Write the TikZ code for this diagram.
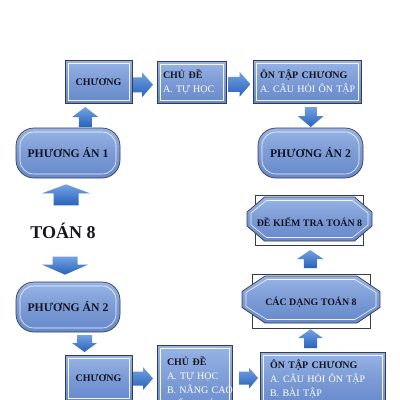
\documentclass[tikz,border=0pt]{standalone}
\usepackage{fontspec}
\setmainfont{Liberation Serif}
\usetikzlibrary{calc}
\definecolor{bxt}{RGB}{152,180,230}
\definecolor{bxm}{RGB}{124,155,213}
\definecolor{bxb}{RGB}{102,137,203}
\definecolor{bord}{RGB}{55,60,75}
\definecolor{txt}{RGB}{20,20,35}
\definecolor{art}{RGB}{115,162,226}
\definecolor{arb}{RGB}{40,98,186}
\newcommand\octpath[5]{($(#1)+(-#4,-#3)$) -- ($(#1)+(#4,-#3)$) -- ($(#1)+(#2,-#5)$) -- ($(#1)+(#2,#5)$) -- ($(#1)+(#4,#3)$) -- ($(#1)+(-#4,#3)$) -- ($(#1)+(-#2,#5)$) -- ($(#1)+(-#2,-#5)$) -- cycle}
\newcommand\bxl[2]{\hspace*{#1}\mbox{#2}}
\tikzset{
  boxbase/.style={draw=bord, line width=0.7pt, top color=bxt, bottom color=bxb, middle color=bxm},
  sqbox/.style={boxbase, inner sep=0pt, text=txt,
    path picture={\draw[white, line width=0.6pt, opacity=0.9]
      ([xshift=3pt,yshift=-3pt]path picture bounding box.north west) rectangle
      ([xshift=-3pt,yshift=3pt]path picture bounding box.south east);}},
  rbox/.style={boxbase, rounded corners=18pt, inner sep=0pt, text=txt,
    font=\bfseries\fontsize{11.7}{13}\selectfont,
    path picture={\draw[white, line width=0.6pt, opacity=0.9, rounded corners=14pt]
      ([xshift=4pt,yshift=-4pt]path picture bounding box.north west) rectangle
      ([xshift=-4pt,yshift=4pt]path picture bounding box.south east);}},
  multibox/.style={sqbox, align=left, font=\fontsize{10}{14}\selectfont},
  octrect/.style={draw=bord, fill=white, line width=0.6pt},
  octfill/.style={draw=bord, line width=0.7pt, top color=bxt, bottom color=bxb, middle color=bxm},
  octframe/.style={draw=white, line width=0.6pt, opacity=0.9},
  octtext/.style={text=txt, inner sep=0pt, font=\bfseries\fontsize{9.9}{11}\selectfont},
  arrowfill/.style={top color=art, bottom color=arb, draw=none},
  pics/rarr/.style n args={4}{code={\path[arrowfill] ({-#1/2},{-#3}) -- ({#1/2-#4},{-#3}) -- ({#1/2-#4},{-#2}) -- ({#1/2},0) -- ({#1/2-#4},{#2}) -- ({#1/2-#4},{#3}) -- ({-#1/2},{#3}) -- cycle;}},
  pics/uarr/.style n args={4}{code={\path[arrowfill] ({-#3},{#1/2}) -- ({-#3},{-#1/2+#4}) -- ({-#2},{-#1/2+#4}) -- (0,{-#1/2}) -- ({#2},{-#1/2+#4}) -- ({#3},{-#1/2+#4}) -- ({#3},{#1/2}) -- cycle;}},
  pics/darr/.style n args={4}{code={\path[arrowfill] ({-#3},{-#1/2}) -- ({-#3},{#1/2-#4}) -- ({-#2},{#1/2-#4}) -- (0,{#1/2}) -- ({#2},{#1/2-#4}) -- ({#3},{#1/2-#4}) -- ({#3},{-#1/2}) -- cycle;}},
}
\begin{document}
\begin{tikzpicture}[x=1pt,y=-1pt]
\clip (0,0) rectangle (400,400);
\fill[white] (0,0) rectangle (400,400);

% top row
\node[sqbox, minimum width=67pt, minimum height=43pt, font=\bfseries\fontsize{10}{12}\selectfont] (c1) at (98.5,81.5) {CHƯƠNG};
\node[multibox, text width=69pt, minimum height=42pt] (d1) at (191.5,82)
  {\bxl{6pt}{\textbf{CHỦ ĐỀ}}\\\bxl{6pt}{\textcolor{white}{A. TỰ HỌC}}};
\node[multibox, text width=108pt, minimum height=43pt] (o1) at (307,81.5)
  {\bxl{7pt}{\textbf{ÔN TẬP CHƯƠNG}}\\\bxl{7pt}{\textcolor{white}{A. CÂU HỎI ÔN TẬP}}};

% rounded boxes
\node[rbox, minimum width=104pt, minimum height=50pt] (pa1) at (68,153) {PHƯƠNG ÁN 1};
\node[rbox, minimum width=105pt, minimum height=50pt] (pa2r) at (310.5,153) {PHƯƠNG ÁN 2};
\node[rbox, minimum width=104pt, minimum height=50pt] (pa2l) at (68,307) {PHƯƠNG ÁN 2};

\node[text=txt, font=\bfseries\fontsize{18}{20}\selectfont] (toan) at (63,231) {TOÁN 8};

% bottom row
\node[sqbox, minimum width=67pt, minimum height=46pt, font=\bfseries\fontsize{10}{12}\selectfont] (c2) at (98.5,378) {CHƯƠNG};
\node[multibox, text width=75pt, minimum height=74pt] (d2) at (194.5,382)
  {\bxl{10pt}{\textbf{CHỦ ĐỀ}}\\\bxl{10pt}{\textcolor{white}{A. TỰ HỌC}}\\\bxl{10pt}{\textcolor{white}{B. NÂNG CAO}}\\\bxl{10pt}{\textcolor{white}{KIẾN THỨC}}};
\node[multibox, text width=125pt, minimum height=54pt] (o2) at (322.5,379)
  {\bxl{10pt}{\textbf{ÔN TẬP CHƯƠNG}}\\\bxl{10pt}{\textcolor{white}{A. CÂU HỎI ÔN TẬP}}\\\bxl{10pt}{\textcolor{white}{B. BÀI TẬP}}};

% octagons
\coordinate (cdc) at (311,299.5);
\draw[octrect] ($(cdc)+(-59,-25.5)$) rectangle ($(cdc)+(59,28.5)$);
\path[octfill] \octpath{cdc}{69}{23.5}{46}{8};
\path[octframe] \octpath{cdc}{65}{20}{44}{7};
\node[octtext, minimum width=138pt, minimum height=47pt] (cd) at ($(cdc)+(0,2.5)$) {CÁC DẠNG TOÁN 8};

\coordinate (dkc) at (309.5,219);
\draw[octrect] ($(dkc)+(-54,-24)$) rectangle ($(dkc)+(54,26)$);
\path[octfill] \octpath{dkc}{62.5}{22}{45}{7};
\path[octframe] \octpath{dkc}{58.5}{18.5}{43}{6};
\node[octtext, minimum width=125pt, minimum height=44pt] (dkt) at ($(dkc)+(0,3)$) {ĐỀ KIỂM TRA TOÁN 8};

% block arrows
\pic at ($(c1.east)!.5!(d1.west)+(-1.5,3)$) {rarr={20}{12.5}{7.5}{11}};
\pic at ($(d1.east)!.5!(o1.west)+(0,2.5)$) {rarr={22}{12.5}{7.5}{11}};
\pic at ($(o1.south)!.5!(pa2r.north)+(2,1.5)$) {darr={20}{13}{6}{11}};
\pic at ($(pa1.north)!.5!(c1.south)+(2,1.5)$) {uarr={20}{13}{6.5}{10}};
\pic at ($(pa1.south)+(-2,16.5)$) {uarr={21}{24}{12.5}{9}};
\pic at ($(pa2l.north)+(-3,-16)$) {darr={18}{23}{12.5}{10}};
\pic at ($(pa2l.south)!.5!(c2.north)+(1.25,0)$) {darr={17}{12.5}{7.5}{9}};
\pic at ($(c2.east)!.5!(d2.west)+(-1.5,-1.5)$) {rarr={20}{11.5}{7}{10}};
\pic at ($(d2.east)!.5!(o2.west)+(2.5,-2.5)$) {rarr={19}{10.5}{6.5}{9}};
\pic at ($(cd.south)+(-0.5,13)$) {uarr={19}{12.5}{6.5}{9}};
\pic at ($(cd.north)!.5!(dkt.south)+(0,-2.25)$) {uarr={18}{13}{6.5}{9}};
\end{tikzpicture}
\end{document}
